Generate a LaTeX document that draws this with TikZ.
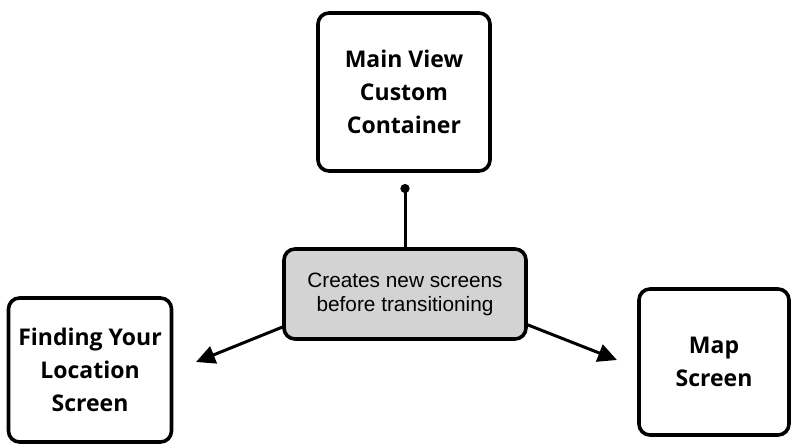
\documentclass[tikz,border=0pt]{standalone}
\usepackage{fontspec}
\setmainfont{Open Sans}
\newfontfamily\helv{Liberation Sans}
\usetikzlibrary{arrows.meta}
\definecolor{midgray}{HTML}{D3D3D3}
\tikzset{
  box/.style={draw=black, line width=3.6pt, rounded corners=11pt, align=center,
    font=\fontsize{23}{33}\selectfont\bfseries, inner sep=0pt, outer sep=0pt},
  midbox/.style={box, fill=midgray, font=\helv\fontsize{20.8}{24}\selectfont},
  conn/.style={line width=3pt, line cap=round},
  arr/.style={conn, -{Triangle[length=19pt,width=18pt]}},
}
\begin{document}
\begin{tikzpicture}[x=1pt,y=-1pt]
\useasboundingbox (0,0) rectangle (792,444);
\node[box, minimum width=172pt, minimum height=158pt] (main) at (404,92) {Main View\\Custom\\Container};
\node[midbox, minimum width=242pt, minimum height=90pt] (mid) at (405,294) {Creates new screens\\before transitioning};
\node[box, minimum width=163pt, minimum height=144pt] (left) at (90,370) {Finding Your\\Location\\Screen};
\node[box, minimum width=150pt, minimum height=146pt] (right) at (714,362) {Map\\Screen};
\coordinate (dot) at (405,184);
\coordinate (lt) at (196,362);
\coordinate (rt) at (617,360);
\draw[conn, {Circle[length=9pt]}-] (dot) -- (mid.north);
\draw[arr] (mid.195) -- (lt);
\draw[arr] (mid.-14) -- (rt);
\end{tikzpicture}
\end{document}
